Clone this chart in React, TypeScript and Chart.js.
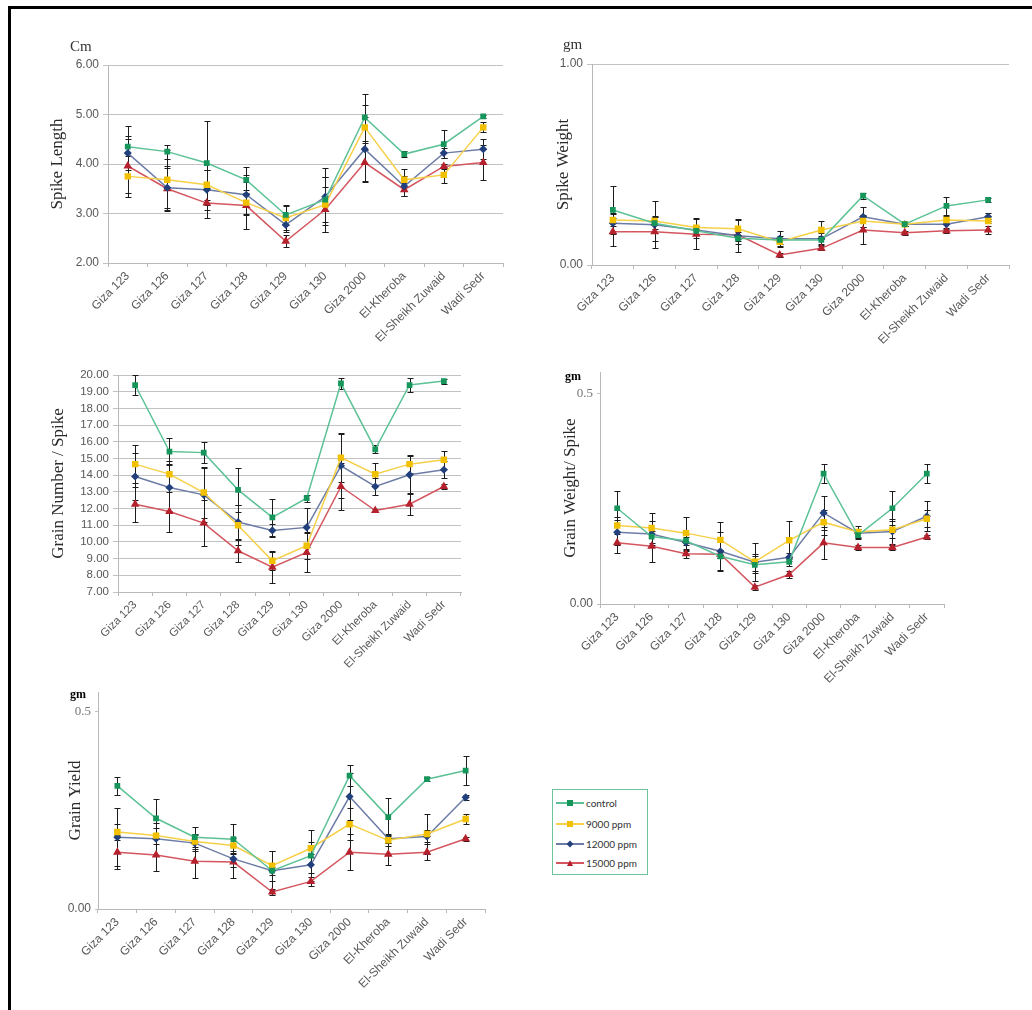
import React, { useEffect, useRef } from "react";
import { Chart, registerables } from "chart.js";

Chart.register(...registerables);

// ---------- DATA ----------
const categories = [
  "Giza 123", "Giza 126", "Giza 127", "Giza 128", "Giza 129",
  "Giza 130", "Giza 2000", "El-Kheroba", "El-Sheikh Zuwaid", "Wadi Sedr",
];
const seriesLabels = ["control", "9000 ppm", "12000 ppm", "15000 ppm"];

// Spike Length (Cm)
const spikeLengthControl = [4.35, 4.25, 4.02, 3.68, 2.97, 3.28, 4.94, 4.20, 4.40, 4.96];
const spikeLength9000 = [3.75, 3.68, 3.58, 3.22, 2.91, 3.18, 4.74, 3.68, 3.78, 4.74];
const spikeLength12000 = [4.22, 3.52, 3.48, 3.38, 2.77, 3.34, 4.30, 3.55, 4.22, 4.30];
const spikeLength15000 = [3.96, 3.50, 3.21, 3.16, 2.44, 3.08, 4.03, 3.48, 3.95, 4.03];
const spikeLengthErrControl = [0.42, 0.14, 0.85, 0.26, 0.2, 0.45, 0.47, 0.06, 0.28, 0.04];
const spikeLengthErr9000 = [0.42, 0.6, 0.3, 0.25, 0.25, 0.55, 0.45, 0.22, 0.16, 0.1];
const spikeLengthErr12000 = [0.35, 0.4, 0.4, 0.4, 0.15, 0.57, 0.65, 0.2, 0.1, 0.2];
const spikeLengthErr15000 = [0.55, 0.45, 0.3, 0.48, 0.12, 0.45, 0.4, 0.13, 0.05, 0.35];

// Spike Weight (gm)
const spikeWeightControl = [0.274, 0.208, 0.17, 0.133, 0.125, 0.125, 0.345, 0.203, 0.294, 0.324];
const spikeWeight9000 = [0.224, 0.219, 0.186, 0.18, 0.116, 0.174, 0.219, 0.203, 0.224, 0.219];
const spikeWeight12000 = [0.208, 0.2, 0.174, 0.145, 0.13, 0.13, 0.24, 0.203, 0.203, 0.24];
const spikeWeight15000 = [0.166, 0.166, 0.153, 0.15, 0.05, 0.083, 0.174, 0.161, 0.17, 0.174];
const spikeWeightErrControl = [0.12, 0.03, 0.02, 0.03, 0.02, 0.02, 0.015, 0.01, 0.045, 0.01];
const spikeWeightErr9000 = [0.03, 0.1, 0.05, 0.05, 0.02, 0.045, 0.03, 0.01, 0.02, 0.01];
const spikeWeightErr12000 = [0.05, 0.04, 0.02, 0.08, 0.04, 0.03, 0.05, 0.01, 0.02, 0.02];
const spikeWeightErr15000 = [0.07, 0.08, 0.075, 0.03, 0.01, 0.01, 0.07, 0.01, 0.01, 0.02];

// Grain Number / Spike
const grainNumberControl = [19.40, 15.41, 15.35, 13.12, 11.47, 12.62, 19.50, 15.55, 19.40, 19.64];
const grainNumber9000 = [14.66, 14.06, 12.96, 11.0, 8.87, 9.77, 15.05, 14.06, 14.66, 14.92];
const grainNumber12000 = [13.92, 13.26, 12.82, 11.19, 10.69, 10.87, 14.56, 13.32, 14.02, 14.32];
const grainNumber15000 = [12.26, 11.82, 11.13, 9.47, 8.49, 9.37, 13.32, 11.88, 12.26, 13.32];
const grainNumberErrControl = [0.58, 0.8, 0.65, 1.3, 1.1, 0.2, 0.35, 0.25, 0.4, 0.15];
const grainNumberErr9000 = [1.15, 0.8, 1.5, 1.2, 0.55, 0.8, 1.45, 0.65, 0.55, 0.55];
const grainNumberErr12000 = [1.4, 1.4, 1.6, 1.0, 0.4, 1.15, 1.9, 0.5, 1.15, 0.5];
const grainNumberErr15000 = [1.05, 1.2, 1.4, 0.65, 0.95, 1.15, 1.4, 0.1, 0.65, 0.15];

// Grain Weight / Spike (gm)
const grainWeightControl = [0.227, 0.16, 0.15, 0.113, 0.093, 0.1, 0.309, 0.163, 0.227, 0.309];
const grainWeight9000 = [0.186, 0.18, 0.168, 0.152, 0.1, 0.151, 0.194, 0.171, 0.176, 0.202];
const grainWeight12000 = [0.17, 0.166, 0.146, 0.125, 0.099, 0.111, 0.216, 0.168, 0.172, 0.208];
const grainWeight15000 = [0.145, 0.137, 0.119, 0.118, 0.04, 0.07, 0.145, 0.134, 0.134, 0.159];
const grainWeightErrControl = [0.04, 0.02, 0.01, 0.035, 0.02, 0.01, 0.022, 0.01, 0.04, 0.022];
const grainWeightErr9000 = [0.02, 0.035, 0.038, 0.042, 0.045, 0.045, 0.03, 0.015, 0.02, 0.02];
const grainWeightErr12000 = [0.03, 0.03, 0.02, 0.045, 0.02, 0.01, 0.04, 0.01, 0.03, 0.035];
const grainWeightErr15000 = [0.025, 0.037, 0.01, 0.01, 0.006, 0.008, 0.038, 0.005, 0.005, 0.005];

// Grain Yield (gm)
const grainYieldControl = [0.312, 0.23, 0.182, 0.177, 0.097, 0.135, 0.338, 0.233, 0.329, 0.351];
const grainYield9000 = [0.195, 0.186, 0.171, 0.161, 0.11, 0.154, 0.215, 0.174, 0.19, 0.228];
const grainYield12000 = [0.182, 0.178, 0.167, 0.127, 0.097, 0.112, 0.285, 0.178, 0.184, 0.283];
const grainYield15000 = [0.144, 0.137, 0.121, 0.119, 0.043, 0.07, 0.144, 0.139, 0.144, 0.178];
const grainYieldErrControl = [0.022, 0.05, 0.025, 0.038, 0.01, 0.064, 0.027, 0.048, 0.005, 0.037];
const grainYieldErr9000 = [0.02, 0.02, 0.02, 0.02, 0.038, 0.015, 0.04, 0.015, 0.05, 0.012];
const grainYieldErr12000 = [0.074, 0.04, 0.02, 0.02, 0.05, 0.02, 0.06, 0.01, 0.015, 0.006];
const grainYieldErr15000 = [0.043, 0.04, 0.043, 0.04, 0.008, 0.011, 0.045, 0.028, 0.021, 0.005];

// ---------- STYLE ----------
const lineColors = ["#5cc296", "#f6d048", "#6c7ca6", "#d4565f"];
const markerColors = ["#17965b", "#f1c000", "#22407c", "#b5222e"];
const pointStyles = ["rect", "rect", "rectRot", "triangle"];
const pointRadii = [3, 3.5, 3, 3.5];

const SANS = "'Liberation Sans', Arial, sans-serif";
const SERIF = "'Liberation Serif', 'Times New Roman', serif";

const errorBarPlugin = {
  id: "errorBars",
  beforeDatasetsDraw(chart: any) {
    const ctx = chart.ctx;
    const y = chart.scales.y;
    ctx.save();
    ctx.strokeStyle = "#1c1c1c";
    ctx.lineWidth = 1;
    chart.data.datasets.forEach((ds: any, di: number) => {
      const meta = chart.getDatasetMeta(di);
      const errs = ds.errors || [];
      meta.data.forEach((pt: any, i: number) => {
        const v = ds.data[i];
        const e = errs[i];
        if (e == null) return;
        const x = Math.round(pt.x) + 0.5;
        const t = Math.round(y.getPixelForValue(v + e)) + 0.5;
        const b = Math.round(y.getPixelForValue(v - e)) + 0.5;
        ctx.beginPath();
        ctx.moveTo(x, t);
        ctx.lineTo(x, b);
        ctx.moveTo(x - 3, t);
        ctx.lineTo(x + 3, t);
        ctx.moveTo(x - 3, b);
        ctx.lineTo(x + 3, b);
        ctx.stroke();
      });
    });
    ctx.restore();
  },
};

type Spec = {
  left: number; top: number; width: number; height: number;
  padTop: number; padRight: number; yWidth: number; xHeight: number;
  yMin: number; yMax: number; step: number; fixedTicks?: number[];
  gridOn: boolean; title: string; titlePad: number;
  xFont: number; yFont: number;
  values: number[][]; errors: number[][];
};

const specs: Spec[] = [
  {
    left: 20, top: 30, width: 500, height: 320, padTop: 35, padRight: 17, yWidth: 88, xHeight: 87,
    yMin: 2, yMax: 6, step: 1, gridOn: true, title: "Spike Length", titlePad: 27, xFont: 12, yFont: 12,
    values: [spikeLengthControl, spikeLength9000, spikeLength12000, spikeLength15000],
    errors: [spikeLengthErrControl, spikeLengthErr9000, spikeLengthErr12000, spikeLengthErr15000],
  },
  {
    left: 540, top: 30, width: 492, height: 320, padTop: 34, padRight: 23, yWidth: 52, xHeight: 85,
    yMin: 0, yMax: 1, step: 1, gridOn: true, title: "Spike Weight", titlePad: 13, xFont: 12, yFont: 12,
    values: [spikeWeightControl, spikeWeight9000, spikeWeight12000, spikeWeight15000],
    errors: [spikeWeightErrControl, spikeWeightErr9000, spikeWeightErr12000, spikeWeightErr15000],
  },
  {
    left: 20, top: 360, width: 460, height: 317, padTop: 15, padRight: 19, yWidth: 98, xHeight: 85,
    yMin: 7, yMax: 20, step: 1, gridOn: true, title: "Grain Number / Spike", titlePad: 28, xFont: 11.5, yFont: 11.5,
    values: [grainNumberControl, grainNumber9000, grainNumber12000, grainNumber15000],
    errors: [grainNumberErrControl, grainNumberErr9000, grainNumberErr12000, grainNumberErr15000],
  },
  {
    left: 540, top: 360, width: 492, height: 332, padTop: 12, padRight: 88, yWidth: 60, xHeight: 88,
    yMin: 0, yMax: 0.55, step: 0.5, fixedTicks: [0, 0.5], gridOn: false, title: "Grain Weight/ Spike", titlePad: 20,
    xFont: 12, yFont: 12,
    values: [grainWeightControl, grainWeight9000, grainWeight12000, grainWeight15000],
    errors: [grainWeightErrControl, grainWeightErr9000, grainWeightErr12000, grainWeightErr15000],
  },
  {
    left: 20, top: 680, width: 480, height: 319, padTop: 12, padRight: 15, yWidth: 78, xHeight: 90,
    yMin: 0, yMax: 0.55, step: 0.5, fixedTicks: [0, 0.5], gridOn: false, title: "Grain Yield", titlePad: 45,
    xFont: 12, yFont: 12,
    values: [grainYieldControl, grainYield9000, grainYield12000, grainYield15000],
    errors: [grainYieldErrControl, grainYieldErr9000, grainYieldErr12000, grainYieldErr15000],
  },
];

function buildConfig(s: Spec): any {
  const datasets = seriesLabels.map((label, k) => ({
    label,
    data: s.values[k],
    errors: s.errors[k],
    borderColor: lineColors[k],
    backgroundColor: markerColors[k],
    pointBackgroundColor: markerColors[k],
    pointBorderColor: markerColors[k],
    pointStyle: pointStyles[k],
    pointRadius: pointRadii[k],
    borderWidth: 1.5,
    tension: 0,
  }));
  const yScale: any = {
    min: s.yMin,
    max: s.yMax,
    ticks: {
      stepSize: s.step,
      autoSkip: false,
      color: (c: any) => (c.tick && c.tick.value === 0.5 && s.fixedTicks ? "#777" : "#595959"),
      font: (c: any) =>
        c.tick && c.tick.value === 0.5 && s.fixedTicks
          ? { family: SERIF, size: 13 }
          : { family: SANS, size: s.yFont },
      padding: 4,
      callback: (v: any) => (s.fixedTicks && v === 0.5 ? "0.5" : Number(v).toFixed(2)),
    },
    grid: {
      color: "#c2c2c2",
      drawOnChartArea: s.gridOn,
      drawTicks: true,
      tickLength: s.gridOn ? 5 : 3,
    },
    border: { display: true, color: "#b8b8b8" },
    title: {
      display: true,
      text: s.title,
      font: { family: SERIF, size: 17 },
      color: "#2a2a2a",
      padding: { top: s.titlePad, bottom: 0 },
    },
    afterFit: (sc: any) => {
      sc.width = s.yWidth;
    },
  };
  if (s.fixedTicks) {
    const ft = s.fixedTicks;
    yScale.afterBuildTicks = (sc: any) => {
      sc.ticks = ft.map((v) => ({ value: v }));
    };
  }
  return {
    type: "line",
    data: { labels: categories, datasets },
    options: {
      responsive: false,
      animation: false,
      layout: { padding: { top: s.padTop, right: s.padRight, left: 0, bottom: 0 } },
      plugins: { legend: { display: false }, tooltip: { enabled: false } },
      scales: {
        x: {
          offset: true,
          grid: {
            offset: true,
            drawOnChartArea: false,
            drawTicks: true,
            tickLength: 4,
            color: "#b8b8b8",
          },
          border: { display: true, color: "#b8b8b8" },
          ticks: {
            autoSkip: false,
            minRotation: 45,
            maxRotation: 45,
            color: "#595959",
            font: { family: SANS, size: s.xFont },
            padding: 2,
          },
          afterFit: (sc: any) => {
            sc.height = s.xHeight;
          },
        },
        y: yScale,
      },
    },
    plugins: [errorBarPlugin],
  };
}

function LineChart({ spec }: { spec: Spec }) {
  const ref = useRef<HTMLCanvasElement | null>(null);
  useEffect(() => {
    if (!ref.current) return;
    const chart = new Chart(ref.current, buildConfig(spec));
    return () => chart.destroy();
  }, [spec]);
  return (
    <canvas
      ref={ref}
      width={spec.width}
      height={spec.height}
      style={{ position: "absolute", left: spec.left, top: spec.top, width: spec.width, height: spec.height }}
    />
  );
}

const unitLabels = [
  { text: "Cm", left: 70, top: 37, size: 15, bold: false },
  { text: "gm", left: 563, top: 35, size: 15, bold: false },
  { text: "gm", left: 565, top: 369, size: 12, bold: true },
  { text: "gm", left: 70, top: 687, size: 12, bold: true },
];

function Legend() {
  const rows = [13, 34, 54, 73];
  return (
    <div
      style={{
        position: "absolute", left: 552, top: 789, width: 96, height: 86,
        border: "1px solid #6cc49c", boxSizing: "border-box", background: "#fff",
      }}
    >
      {seriesLabels.map((lab, k) => (
        <div key={lab} style={{ position: "absolute", left: 0, top: rows[k] - 8, width: 96, height: 16 }}>
          <div style={{ position: "absolute", left: 3, top: 7, width: 28, height: 2, background: lineColors[k] }} />
          <div
            style={{
              position: "absolute", left: 14, top: 5, width: 6, height: 6,
              background: markerColors[k],
              transform: k === 2 ? "rotate(45deg) scale(0.8)" : undefined,
              clipPath: k === 3 ? "polygon(50% 0, 100% 100%, 0 100%)" : undefined,
            }}
          />
          <div
            style={{
              position: "absolute", left: 33, top: 1, fontFamily: "Lato, 'Open Sans', sans-serif",
              fontSize: 10, color: "#333", whiteSpace: "nowrap", lineHeight: "14px",
            }}
          >
            {lab}
          </div>
        </div>
      ))}
    </div>
  );
}

export default function App() {
  return (
    <div style={{ position: "absolute", left: 0, top: 0, width: 1032, height: 1010, background: "#fff", overflow: "hidden" }}>
      <div
        style={{
          position: "absolute", left: 8, top: 6, width: 1024, height: 1004,
          borderTop: "3px solid #000", borderLeft: "3px solid #000", boxSizing: "border-box",
        }}
      />
      {specs.map((s, i) => (
        <LineChart key={i} spec={s} />
      ))}
      {unitLabels.map((u, i) => (
        <div
          key={i}
          style={{
            position: "absolute", left: u.left, top: u.top, fontFamily: SERIF, fontSize: u.size,
            fontWeight: u.bold ? "bold" : "normal", color: u.bold ? "#000" : "#333", lineHeight: 1.2,
          }}
        >
          {u.text}
        </div>
      ))}
      <Legend />
    </div>
  );
}
